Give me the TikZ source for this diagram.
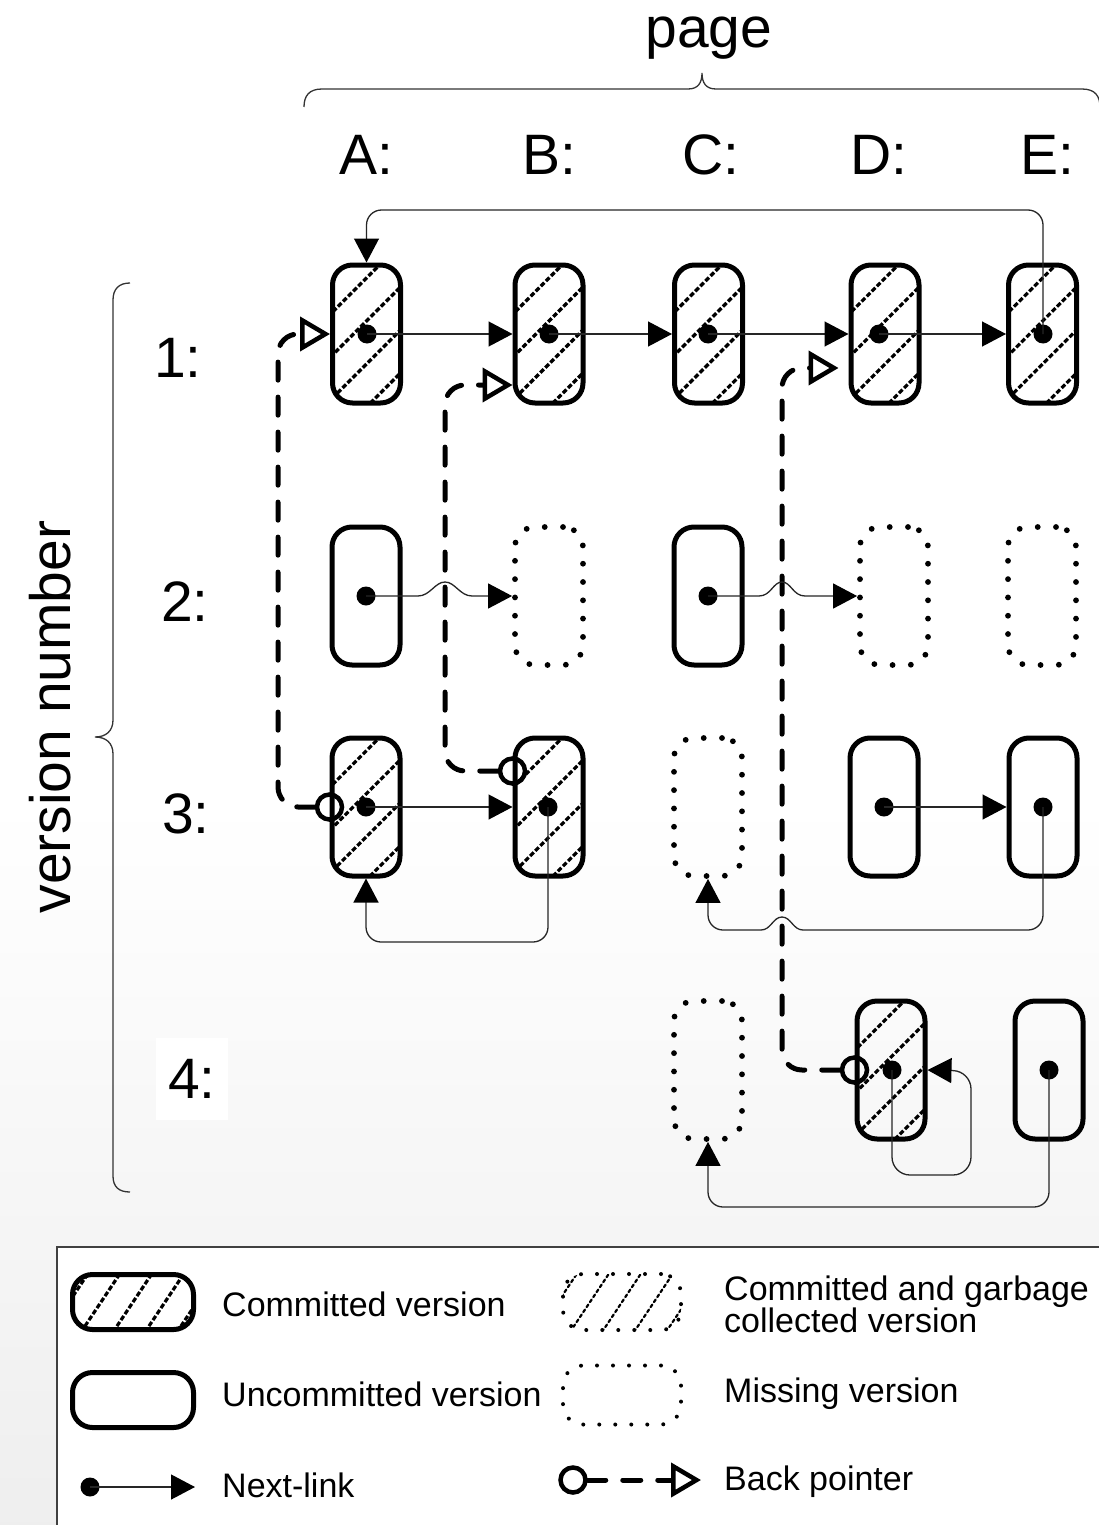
\documentclass[tikz,border=0pt]{standalone}
\usepackage{fontspec}
\setmainfont{Liberation Sans}
\usetikzlibrary{arrows.meta,calc}
\begin{document}
\begin{tikzpicture}[x=1pt,y=-1pt,
  big/.style={font=\fontsize{57}{68}\selectfont, inner sep=0pt},
  leg/.style={font=\fontsize{34}{40}\selectfont, inner sep=0pt, anchor=base west},
  hatchline/.style={line width=3.2pt, dash pattern=on 5pt off 2.2pt},
  hatch/.style={path picture={\foreach \d in {-142,-99,-56,-13,30,73,116}
      \draw[hatchline] ([shift={(\d-110,110)}]path picture bounding box.center)
        -- ([shift={(\d+110,-110)}]path picture bounding box.center);}},
  hatchsteep/.style={path picture={\foreach \d in {-96,-64,-32,0,32,64,96}
      \draw[hatchline,#1] ([shift={(\d-40,60)}]path picture bounding box.center)
        -- ([shift={(\d+40,-60)}]path picture bounding box.center);}},
  version/.style={rounded corners=20pt, minimum width=68pt, minimum height=138pt,
      inner sep=0pt, line width=5pt},
  commit/.style={version, draw, hatch},
  uncommit/.style={version, draw},
  missing/.style={version, draw, line cap=round, dash pattern=on 0pt off 18.3pt, line width=5.8pt},
  legicon/.style={rounded corners=20pt, minimum width=121pt, minimum height=55pt,
      inner sep=0pt, line width=5pt},
  dot/.style={circle, fill, inner sep=0pt, minimum size=19pt},
  bpstart/.style={circle, draw, inner sep=0pt, minimum size=25pt, line width=4.5pt},
  link/.style={line width=1.3pt, draw=black!85, -{Triangle[length=24pt,width=25pt,fill=black,color=black]}},
  backptr/.style={line width=5pt, line cap=round, dash pattern=on 18pt off 17pt,
      rounded corners=20pt, -{Triangle[open,length=30pt,width=34pt,line width=4.5pt]}},
  brace/.style={line width=1.3pt, draw=black!80},
]
\useasboundingbox (0,0) rectangle (1099,1525);
\clip (0,0) rectangle (1099,1525);
% background
\fill[white] (0,0) rectangle (1099,1525);
\shade[top color=white, bottom color=gray!13] (0,800) rectangle (1099,1525);

% axis labels and braces
\node[big, anchor=base] (page) at (709,48) {page};
\draw[brace] (304,107) .. controls (304,96) and (309,89) .. (322,89) -- (688,89)
  .. controls (698,89) and (702,83) .. (702,73) .. controls (702,83) and (706,89) .. (716,89)
  -- (1082,89) .. controls (1095,89) and (1100,96) .. (1100,107);
\node[big, anchor=base] (lA) at (366,175) {A:};
\node[big, anchor=base] (lB) at (549,175) {B:};
\node[big, anchor=base] (lC) at (711,175) {C:};
\node[big, anchor=base] (lD) at (879,175) {D:};
\node[big, anchor=base] (lE) at (1047,175) {E:};

\draw[brace] (130,283) .. controls (119,283) and (113,289) .. (113,300) -- (113,720)
  .. controls (113,731) and (106,737) .. (95,737) .. controls (106,737) and (113,743) .. (113,754)
  -- (113,1176) .. controls (113,1187) and (119,1192) .. (130,1192);
\node[big, rotate=90, anchor=base] (vn) at (70,717) {version number};
\node[big, anchor=base] (r1) at (178,377) {1:};
\node[big, anchor=base] (r2) at (185,621) {2:};
\node[big, anchor=base] (r3) at (186,833) {3:};
\node[big, fill=white, minimum width=72pt, minimum height=82pt] (r4) at (192,1079) {4:};

% versions
\node[commit] (A1) at (366.5,334) {};
\node[commit] (B1) at (549,334) {};
\node[commit] (C1) at (708.5,334) {};
\node[commit] (D1) at (885,334) {};
\node[commit] (E1) at (1042.5,334) {};

\node[uncommit] (A2) at (366,596) {};
\node[missing]  (B2) at (549,596) {};
\node[uncommit] (C2) at (708,596) {};
\node[missing]  (D2) at (894,596) {};
\node[missing]  (E2) at (1042,596) {};

\node[commit]   (A3) at (366,807) {};
\node[commit]   (B3) at (549,807) {};
\node[missing]  (C3) at (708,807) {};
\node[uncommit] (D3) at (884,807) {};
\node[uncommit] (E3) at (1043,807) {};

\node[missing]  (C4) at (708,1070) {};
\node[commit]   (D4) at (891,1070) {};
\node[uncommit] (E4) at (1049,1070) {};

% back pointers
\node[bpstart] (oA3) at (A3.west) {};
\node[bpstart] (oB3) at ($(B3.west)+(0,-36)$) {};
\node[bpstart] (oD4) at (D4.west) {};
\draw[backptr] (oA3.west) -- (278,807) |- (A1.west);
\draw[backptr] (oB3.west) -- (445,771) |- ($(B1.west)+(0,51)$);
\draw[backptr] (oD4.west) -- (782,1070) |- ($(D1.west)+(-10,34)$);

% next-link origins
\node[dot] (dA1) at (367,334) {};
\node[dot] (dB1) at (549,334) {};
\node[dot] (dC1) at (708,334) {};
\node[dot] (dD1) at (879,334) {};
\node[dot] (dE1) at (1043,334) {};
\node[dot] (dA2) at (366,596) {};
\node[dot] (dC2) at (708,596) {};
\node[dot] (dA3) at (366,807) {};
\node[dot] (dB3) at (548,807) {};
\node[dot] (dD3) at (884,807) {};
\node[dot] (dE3) at (1043,807) {};
\node[dot] (dD4) at (892,1070) {};
\node[dot] (dE4) at (1049,1070) {};

% next-links
\draw[link] (dA1.center) -- (B1.west);
\draw[link] (dB1.center) -- (C1.west);
\draw[link] (dC1.center) -- (D1.west);
\draw[link] (dD1.center) -- (E1.west);
\draw[link, rounded corners=15pt] (dE1.center) -- (1043,210) -| (A1.north);
\draw[link] (dA2.center) -- (418,596) .. controls (430,596) and (435,582) .. (445,582)
  .. controls (455,582) and (460,596) .. (472,596) -- (B2.west);
\draw[link] (dC2.center) -- (759,596) .. controls (771,596) and (773,582) .. (782,582)
  .. controls (791,582) and (793,596) .. (805,596) -- (D2.west);
\draw[link] (dA3.center) -- (B3.west);
\draw[link, rounded corners=15pt] (dB3.center) -- (548,942) -| (A3.south);
\draw[link] (dD3.center) -- (E3.west);
\draw[link] (dE3.center) [rounded corners=15pt] -- (1043,930) [sharp corners] -- (803,930)
  .. controls (793,930) and (791,917) .. (782,917) .. controls (773,917) and (771,930) .. (761,930)
  [rounded corners=15pt] -| (C3.south);
\draw[link, rounded corners=18pt] (dD4.center) -- (892,1175) -- (971,1175) -- (971,1071) -- (D4.east);
\draw[link, rounded corners=15pt] (dE4.center) -- (1049,1207) -| (C4.south);

% legend
\draw[draw=black!75, line width=1.5pt, fill=white] (57,1247) rectangle (1130,1560);
\node[legicon, draw, hatchsteep] (gC) at (133,1302) {};
\node[legicon, draw] (gU) at (133,1400) {};
\node[dot] (gdot) at (90,1487) {};
\coordinate (gtip) at (195,1487);
\draw[link] (gdot.center) -- (gtip);
\node[legicon, minimum width=118pt, minimum height=56pt, draw, line width=4pt, line cap=round,
      dash pattern=on 0pt off 16pt, hatchsteep={line width=2.2pt, dash pattern=on 3pt off 3pt}] (gG) at (622,1302) {};
\node[legicon, minimum width=118pt, minimum height=59pt, draw, line width=4pt, line cap=round,
      dash pattern=on 0pt off 16pt] (gM) at (622,1395) {};
\node[bpstart] (go) at (573,1480) {};
\coordinate (gbt) at (701,1480);
\draw[backptr] (go.east) -- (gbt);

\node[leg] (tC) at (222,1316) {Committed version};
\node[leg] (tU) at (222,1406) {Uncommitted version};
\node[leg] (tN) at (222,1497) {Next-link};
\node[leg] (tG1) at (724,1300) {Committed and garbage};
\node[leg] (tG2) at (724,1332) {collected version};
\node[leg] (tM) at (724,1402) {Missing version};
\node[leg] (tB) at (724,1490) {Back pointer};
\end{tikzpicture}
\end{document}
